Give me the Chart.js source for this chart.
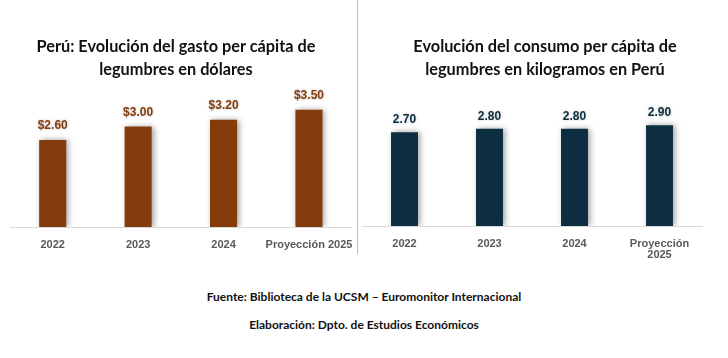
<!DOCTYPE html>
<html>
<head>
<meta charset="utf-8">
<script src="https://cdn.jsdelivr.net/npm/chart.js@4.4.1/dist/chart.umd.min.js"></script>
<style>
  html, body { margin: 0; padding: 0; background: #ffffff; }
  body { width: 728px; height: 358px; position: relative; overflow: hidden; }
  .wrap { position: absolute; top: 0; }
  #divider { position: absolute; left: 357px; top: 0; width: 1px; height: 254px; background: #BEBEBE; }
  .title { position: absolute; top: 35px; text-align: center;
           font-family: Lato, "Liberation Sans", sans-serif; font-weight: 700; font-size: 16.3px;
           line-height: 22.6px; color: #111; }
  .foot { position: absolute; left: 0; width: 728px; text-align: center;
          font-family: Lato, "Liberation Sans", sans-serif; font-weight: 700; font-size: 12px; color: #111; }
</style>
</head>
<body>
<div class="wrap" id="wl" style="left:0;width:357px;height:264px;"><canvas id="c1"></canvas></div>
<div class="wrap" id="wr" style="left:358px;width:370px;height:274px;"><canvas id="c2"></canvas></div>
<div id="divider"></div>
<div class="title" id="t1" style="left:0;width:352px;"></div>
<div class="title" id="t2" style="left:358px;width:374px;"></div>
<div class="foot" style="top:289px;">Fuente: Biblioteca de la UCSM – Euromonitor Internacional</div>
<div class="foot" style="top:317px;">Elaboración: Dpto. de Estudios Económicos</div>
<script>
const categoriesLeft = ['2022', '2023', '2024', 'Proyección 2025'];
const categoriesRight = ['2022', '2023', '2024', ['Proyección', '2025']];
const gastoUSD = [2.60, 3.00, 3.20, 3.50];
const consumoKg = [2.70, 2.80, 2.80, 2.90];
const titleLeft = ['Perú: Evolución del gasto per cápita de', 'legumbres en dólares'];
const titleRight = ['Evolución del consumo per cápita de', 'legumbres en kilogramos en Perú'];

function setTitle(id, lines) {
  const el = document.getElementById(id);
  lines.forEach((l, i) => {
    if (i) el.appendChild(document.createElement('br'));
    el.appendChild(document.createTextNode(l));
  });
}
setTitle('t1', titleLeft);
setTitle('t2', titleRight);

const shadowPlugin = {
  id: 'barShadow',
  beforeDatasetsDraw(chart) {
    const ctx = chart.ctx;
    ctx.save();
    ctx.shadowColor = 'rgba(0,0,0,0.38)';
    ctx.shadowBlur = 6;
    ctx.shadowOffsetX = 2;
    ctx.shadowOffsetY = 0;
  },
  afterDatasetsDraw(chart) {
    chart.ctx.restore();
  }
};

const labelPlugin = {
  id: 'valueLabels',
  afterDatasetsDraw(chart, args, opts) {
    const ctx = chart.ctx;
    ctx.save();
    ctx.font = 'bold 12px "Liberation Sans", Arial, sans-serif';
    ctx.fillStyle = opts.color;
    ctx.textAlign = 'center';
    ctx.textBaseline = 'middle';
    ctx.shadowColor = 'rgba(0,0,0,0.25)';
    ctx.shadowBlur = 3;
    const meta = chart.getDatasetMeta(0);
    meta.data.forEach((bar, i) => {
      const v = chart.data.datasets[0].data[i];
      ctx.fillText(opts.prefix + v.toFixed(2), bar.x, bar.y - opts.offset);
    });
    ctx.restore();
  }
};

function makeChart(id, labels, data, color, padding, lblOpts) {
  return new Chart(document.getElementById(id), {
    type: 'bar',
    data: {
      labels: labels,
      datasets: [{
        data: data,
        backgroundColor: color,
        borderWidth: 0,
        categoryPercentage: 1.0,
        barPercentage: 0.317
      }]
    },
    options: {
      responsive: true,
      maintainAspectRatio: false,
      animation: false,
      layout: { padding: padding },
      plugins: {
        legend: { display: false },
        tooltip: { enabled: false },
        title: { display: false },
        valueLabels: lblOpts
      },
      scales: {
        x: {
          grid: { display: false },
          border: { display: true, color: '#D9D9D9', width: 1 },
          ticks: {
            color: '#595959',
            font: { family: '"Liberation Sans", Arial, sans-serif', size: 11, weight: 'bold', lineHeight: 1.0 },
            padding: 4,
            maxRotation: 0,
            autoSkip: false
          }
        },
        y: { display: false, min: 0, max: 4 }
      }
    },
    plugins: [shadowPlugin, labelPlugin]
  });
}

makeChart('c1', categoriesLeft, gastoUSD, '#843C0C',
  { left: 10, right: 5, top: 93, bottom: 10 },
  { color: '#843C0C', prefix: '$', offset: 14 });
makeChart('c2', categoriesRight, consumoKg, '#0D2E40',
  { left: 4, right: 26, top: 87, bottom: 10 },
  { color: '#0D2E40', prefix: '', offset: 12.5 });
</script>
</body>
</html>
